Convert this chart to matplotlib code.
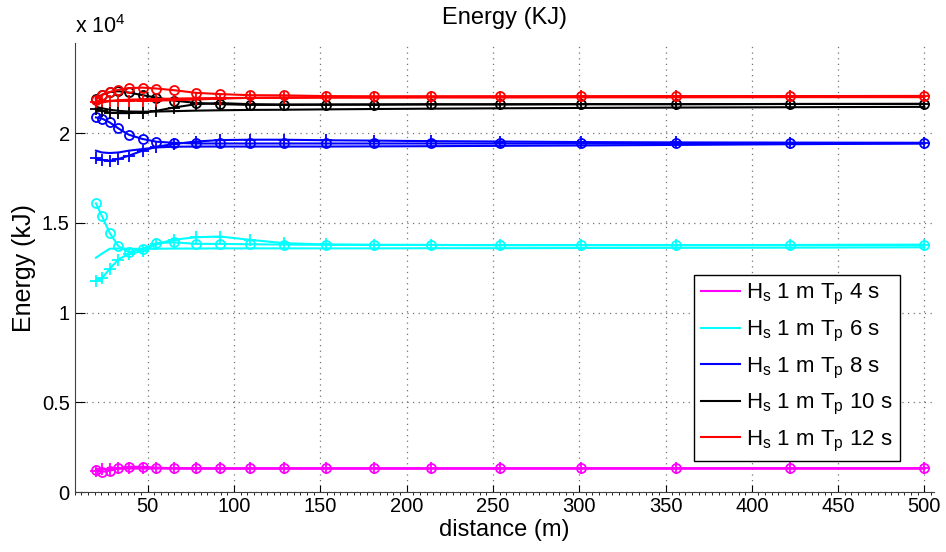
import matplotlib
matplotlib.use('Agg')
import matplotlib.pyplot as plt
from matplotlib.ticker import AutoMinorLocator, FuncFormatter

plt.rcParams['font.family'] = ['Liberation Sans', 'DejaVu Sans']
plt.rcParams['mathtext.fontset'] = 'custom'
plt.rcParams['mathtext.rm'] = 'Liberation Sans'

# distancias (m)
distance = [20, 23.5, 28, 33, 39, 47, 55, 65, 78, 92, 109, 129, 153, 181, 214, 254, 301, 356, 422, 500]

# energia (kJ) - Tp 4 s
tp4_line = [1270, 1290, 1300, 1310, 1320, 1320, 1320, 1320, 1320, 1320, 1320, 1320, 1320, 1320, 1320, 1320, 1325, 1325, 1330, 1330]
tp4_circ = [1240, 1140, 1200, 1330, 1420, 1420, 1370, 1340, 1330, 1330, 1330, 1330, 1330, 1330, 1330, 1330, 1330, 1330, 1330, 1330]
tp4_plus = [1200, 1270, 1320, 1350, 1360, 1360, 1350, 1340, 1330, 1330, 1330, 1330, 1330, 1330, 1330, 1330, 1330, 1330, 1330, 1330]

# Tp 6 s
tp6_line = [13060, 13290, 13560, 13570, 13560, 13550, 13560, 13570, 13570, 13580, 13580, 13580, 13580, 13580, 13590, 13590, 13600, 13610, 13620, 13640]
tp6_circ = [16090, 15370, 14440, 13700, 13370, 13560, 13870, 13920, 13830, 13830, 13810, 13790, 13780, 13770, 13770, 13760, 13760, 13760, 13760, 13760]
tp6_plus = [11790, 11920, 12440, 12960, 13280, 13420, 13830, 14060, 14200, 14240, 14060, 13870, 13800, 13780, 13770, 13760, 13760, 13760, 13770, 13790]

# Tp 8 s
tp8_line = [19020, 18920, 18890, 18920, 19020, 19110, 19200, 19240, 19250, 19250, 19250, 19250, 19250, 19260, 19270, 19290, 19310, 19340, 19380, 19420]
tp8_circ = [20870, 20810, 20590, 20260, 19910, 19670, 19520, 19460, 19420, 19420, 19420, 19420, 19420, 19420, 19420, 19420, 19420, 19420, 19420, 19430]
tp8_plus = [18590, 18500, 18460, 18560, 18740, 19020, 19240, 19390, 19530, 19610, 19630, 19630, 19600, 19580, 19550, 19530, 19500, 19480, 19470, 19460]

# Tp 10 s
tp10_line = [21460, 21380, 21300, 21240, 21200, 21190, 21200, 21220, 21250, 21270, 21290, 21300, 21320, 21340, 21360, 21380, 21400, 21420, 21440, 21460]
tp10_circ = [21920, 22130, 22280, 22330, 22260, 22110, 21980, 21810, 21680, 21610, 21570, 21570, 21580, 21590, 21600, 21600, 21610, 21610, 21620, 21630]
tp10_plus = [21330, 21240, 21140, 21110, 21110, 21140, 21240, 21420, 21610, 21670, 21610, 21590, 21590, 21590, 21600, 21600, 21610, 21610, 21620, 21620]

# Tp 12 s
tp12_line = [21620, 21700, 21780, 21830, 21860, 21880, 21900, 21920, 21940, 21950, 21960, 21960, 21970, 21970, 21980, 21980, 21990, 21990, 22000, 22000]
tp12_circ = [21850, 22130, 22290, 22410, 22500, 22530, 22480, 22390, 22240, 22170, 22110, 22100, 22060, 22050, 22050, 22050, 22050, 22060, 22060, 22070]
tp12_plus = [21750, 21780, 21790, 21800, 21800, 21800, 21810, 21830, 21870, 21920, 21960, 21980, 22000, 22010, 22020, 22030, 22040, 22040, 22050, 22060]

periodos = ['4', '6', '8', '10', '12']
cores = ['#ff00ff', '#00ffff', '#0000ff', '#000000', '#ff0000']
grupos = [(tp4_line, tp4_circ, tp4_plus), (tp6_line, tp6_circ, tp6_plus),
          (tp8_line, tp8_circ, tp8_plus), (tp10_line, tp10_circ, tp10_plus),
          (tp12_line, tp12_circ, tp12_plus)]

fig = plt.figure(figsize=(9.46, 5.52), dpi=100)
ax = fig.add_axes([0.0788, 0.1082, 0.9086, 0.8134])

for i in range(len(grupos)):
    linha, circ, plus = grupos[i]
    ax.plot(distance, linha, color=cores[i], lw=1.5,
            label=r'H$_{\rm s}$ 1 m T$_{\rm p}$ ' + periodos[i] + ' s')
    ax.plot(distance, circ, color=cores[i], lw=1.5, marker='o', ms=6.5,
            mfc='none', mew=1.3)
    ax.plot(distance, plus, color=cores[i], lw=1.5, marker='+', ms=8, mew=1.3)

ax.set_xlim(7.6, 505.6)
ax.set_ylim(0, 25000)
ax.set_xticks(range(50, 501, 50))
ax.set_yticks([0, 5000, 10000, 15000, 20000])
ax.yaxis.set_major_formatter(FuncFormatter(lambda v, p: '%g' % (v / 1e4)))
ax.xaxis.set_minor_locator(AutoMinorLocator(13))

ax.spines['top'].set_visible(False)
ax.spines['right'].set_visible(False)
ax.spines['left'].set_color('0.25')
ax.spines['bottom'].set_color('0.25')
ax.tick_params(direction='in', labelsize=14.5)
ax.tick_params(axis='y', which='major', length=7)
ax.tick_params(axis='x', which='major', length=5)
ax.tick_params(axis='x', which='minor', length=2.5)
ax.grid(True, which='major', linestyle=(0, (1, 3.5)), color='0.45', lw=0.9)
ax.set_axisbelow(True)

ax.set_title('Energy (KJ)', fontsize=17, pad=14)
ax.set_xlabel('distance (m)', fontsize=17, labelpad=2)
ax.set_ylabel('Energy (kJ)', fontsize=18, labelpad=4)
ax.text(0, 1.012, r'x 10$^{4}$', transform=ax.transAxes, fontsize=15.5,
        ha='left', va='bottom')

leg = ax.legend(loc='lower right', bbox_to_anchor=(0.960, 0.0697), borderaxespad=0,
                fontsize=16, fancybox=False, framealpha=1, edgecolor='black',
                handlelength=1.75, handletextpad=0.25, labelspacing=0.52,
                borderpad=0.32)
leg.get_frame().set_linewidth(1.0)

fig.savefig('out.png', dpi=100)
